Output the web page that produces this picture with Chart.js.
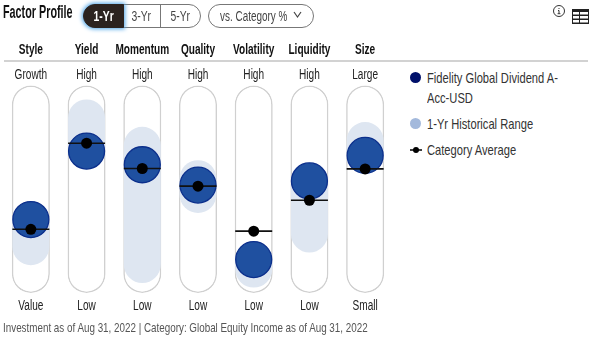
<!DOCTYPE html>
<html>
<head>
<meta charset="utf-8">
<script src="https://cdn.jsdelivr.net/npm/chart.js@4"></script>
<style>
  body { margin: 0; background: #fff; font-family: "Liberation Sans", sans-serif; color: #222; }
  #wrap { position: relative; width: 595px; height: 361px; overflow: hidden; }
  #wrap > * { position: absolute; }
  canvas { left: 0; top: 0; }
  .narrow { transform-origin: left center; white-space: nowrap; }
  .title { left: 3px; top: 2px; font-size: 18px; font-weight: bold; color: #111; transform: scaleX(.6); }
  .seg { top: 4px; height: 22px; line-height: 22px; text-align: center; font-size: 14px; color: #444; border: 1px solid #777; }
  .seg span { display: inline-block; transform: scaleX(.74); }
  .rule { left: 4px; top: 60px; width: 584px; height: 2px; background: #d2d2d2; }
  .leg { left: 427px; font-size: 14.5px; line-height: 20px; color: #333; transform: scaleX(.77); }
  .dot { border-radius: 50%; width: 11px; height: 11px; left: 410px; }
  .foot { left: 3px; top: 320px; font-size: 13.3px; color: #555; transform: scaleX(.74); }
</style>
</head>
<body>
<div id="wrap">
  <div class="rule"></div>
  <canvas id="factor-profile" width="395" height="361"></canvas>
  <div class="title narrow">Factor Profile</div>
  <div class="seg" style="left:83px;width:39px;background:#2b2320;color:#fff;font-weight:bold;border-color:#2b2320;border-radius:13px 0 0 13px;box-shadow:0 0 4px 1px #4aa3e8;z-index:2"><span>1-Yr</span></div>
  <div class="seg" style="left:123px;width:37px;border-left:none"><span>3-Yr</span></div>
  <div class="seg" style="left:160px;width:39px;border-radius:0 13px 13px 0"><span>5-Yr</span></div>
  <div class="seg" style="left:208px;width:104px;border-radius:13px;text-align:left"><span style="transform:scaleX(.71);transform-origin:left center;margin-left:11px;white-space:nowrap">vs. Category %</span></div>
  <svg style="left:293px;top:11px" width="9" height="8"><path d="M1 1 L4.5 6 L8 1" fill="none" stroke="#444" stroke-width="1.2"/></svg>
  <svg style="left:552px;top:4px" width="14" height="14"><circle cx="7" cy="7" r="5.5" fill="none" stroke="#333" stroke-width="1"/><path d="M7 4v1M6 6.5h1v3M5.6 9.7h2.8" stroke="#333" fill="none"/></svg>
  <svg style="left:572px;top:9px" width="18" height="16"><path d="M0 0h17v15h-17z" fill="#222"/><path d="M1 3h6v2.5h-6zM8 3h8v2.5h-8zM1 7h6v2.5h-6zM8 7h8v2.5h-8zM1 11h6v2.5h-6zM8 11h8v2.5h-8z" fill="#fff"/></svg>
  <div class="dot" style="top:72px;background:#00106a"></div>
  <div class="leg narrow" style="top:68px">Fidelity Global Dividend A-<br>Acc-USD</div>
  <div class="dot" style="top:118px;background:#a3b9dc"></div>
  <div class="leg narrow" style="top:114px">1-Yr Historical Range</div>
  <svg style="left:410px;top:145px" width="12" height="10"><path d="M0 5h12" stroke="#000" stroke-width="1.5"/><circle cx="6" cy="5" r="3" fill="#000"/></svg>
  <div class="leg narrow" style="top:140px">Category Average</div>
  <div class="foot narrow">Investment as of Aug 31, 2022 | Category: Global Equity Income as of Aug 31, 2022</div>
</div>
<script>
const FACTORS = ["Style", "Yield", "Momentum", "Quality", "Volatility", "Liquidity", "Size"];
const TOP_LABELS = ["Growth", "High", "High", "High", "High", "High", "Large"];
const BOTTOM_LABELS = ["Value", "Low", "Low", "Low", "Low", "Low", "Small"];

const FUND = [35.4, 68.4, 61.8, 52, 16.1, 54, 66.3];
const CATEGORY_AVG = [30.7, 72.2, 60, 51.5, 29.8, 44.7, 59.8];
const RANGE_LOW = [13.4, 59.4, 4.8, 38.6, 2.6, 19.5, 57.3];
const RANGE_HIGH = [44.3, 93.3, 80.1, 64, 25, 63.1, 82.4];
const TRACK = FACTORS.map(() => [0, 100]);

// no condensed font on the box, so squeeze the axis text by hand
const narrowLabels = {
  id: "narrowLabels",
  afterDraw(chart) {
    const ctx = chart.ctx;
    const x = chart.scales.x;
    const row = (labels, y, font, color) => {
      labels.forEach((text, i) => {
        ctx.save();
        ctx.translate(x.getPixelForValue(i), y);
        ctx.scale(0.72, 1);
        ctx.font = font;
        ctx.fillStyle = color;
        ctx.textAlign = "center";
        ctx.textBaseline = "middle";
        ctx.fillText(text, 0, 0);
        ctx.restore();
      });
    };
    row(FACTORS, 50, "bold 14px 'Liberation Sans'", "#111");
    row(TOP_LABELS, 75, "14px 'Liberation Sans'", "#222");
    row(BOTTOM_LABELS, 306, "14px 'Liberation Sans'", "#222");
  }
};

new Chart(document.getElementById("factor-profile").getContext("2d"), {
  plugins: [narrowLabels],
  data: {
    labels: FACTORS,
    datasets: [
      // drawn back to front: lower order goes on top
      { type: "line", data: CATEGORY_AVG, order: 1, showLine: false, clip: false,
        pointRadius: 5.5, pointBackgroundColor: "#000", pointBorderWidth: 0 },
      { type: "line", data: CATEGORY_AVG, order: 2, showLine: false, clip: false, pointStyle: "line",
        pointRadius: 18.5, pointBorderColor: "#111", pointBorderWidth: 1.6 },
      { type: "line", data: FUND, order: 3, showLine: false, clip: false,
        pointRadius: 18, pointBackgroundColor: "#1f50a0", pointBorderColor: "#0b2f8c", pointBorderWidth: 1.3 },
      { type: "bar", data: RANGE_LOW.map((v, i) => [v, RANGE_HIGH[i]]), order: 4, grouped: false, clip: false,
        backgroundColor: "#dee6f1", borderSkipped: false, borderRadius: 18.5, barThickness: 37, inflateAmount: 0 },
      { type: "bar", data: TRACK, order: 5, grouped: false, clip: false,
        backgroundColor: "#fff", borderColor: "#d0d0d0", borderWidth: 1.6, borderSkipped: false,
        borderRadius: 19, barThickness: 38, inflateAmount: 0 }
    ]
  },
  options: {
    responsive: false,
    animation: false,
    layout: { autoPadding: false, padding: { left: 3, right: 2, top: 85.5, bottom: 68 } },
    plugins: { legend: { display: false }, tooltip: { enabled: false } },
    scales: {
      x: { display: false },
      y: { display: false, min: 0, max: 100 }
    }
  }
});
</script>
</body>
</html>
